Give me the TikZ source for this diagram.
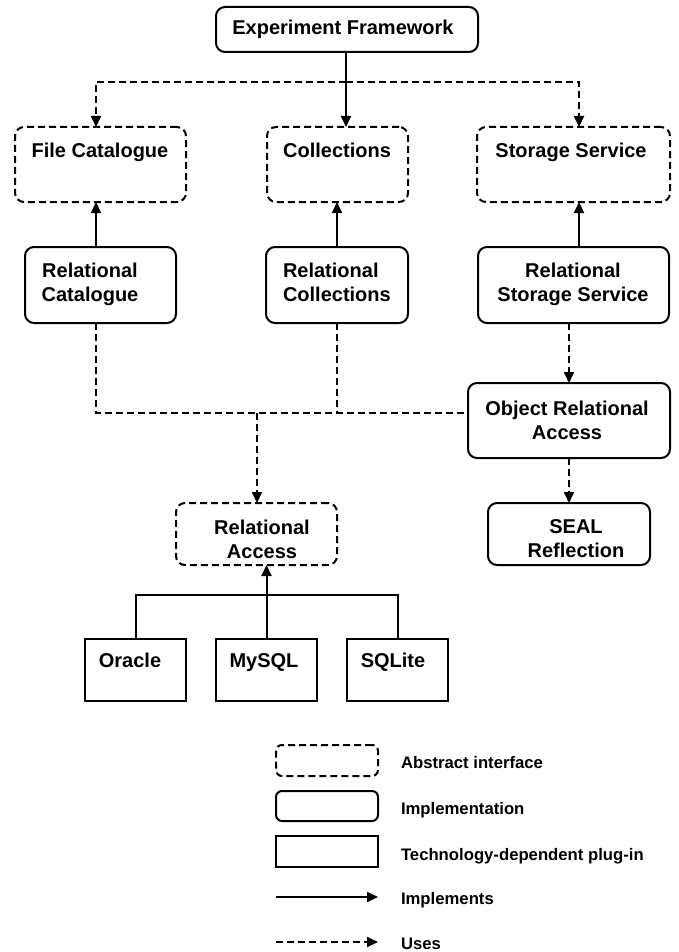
\documentclass[tikz,border=0pt]{standalone}
\usepackage{fontspec}
\setmainfont{Liberation Sans}
\usetikzlibrary{arrows.meta}
\begin{document}
\begin{tikzpicture}[x=1pt,y=-1pt,
  every node/.style={inner sep=0pt, outer sep=0pt},
  abstractbox/.style={draw, line width=2pt, dash pattern=on 7pt off 4pt, rounded corners=9pt},
  implbox/.style={draw, line width=2pt, rounded corners=9pt},
  plugbox/.style={draw, line width=2pt},
  lbl/.style={font=\fontsize{20}{24}\selectfont\bfseries},
  leg/.style={font=\fontsize{16.7}{20}\selectfont\bfseries, anchor=base west},
  implarrow/.style={line width=2pt, -{Triangle[length=11pt,width=10pt]}},
  usesarrow/.style={line width=2pt, dash pattern=on 7pt off 4pt, -{Triangle[length=11pt,width=10pt]}},
  usesline/.style={line width=2pt, dash pattern=on 7pt off 4pt},
  plainline/.style={line width=2pt}]
\useasboundingbox (0,0) rectangle (678,952);

% boxes
\node[implbox, minimum width=262pt, minimum height=45pt] (ef) at (347,29.5) {};
\node[abstractbox, minimum width=171pt, minimum height=75pt] (fc) at (100.5,164.5) {};
\node[abstractbox, minimum width=141pt, minimum height=75pt] (coll) at (337.5,164.5) {};
\node[abstractbox, minimum width=193pt, minimum height=75pt] (ss) at (573.5,164.5) {};
\node[implbox, minimum width=151pt, minimum height=76pt] (relcat) at (100.5,285) {};
\node[implbox, minimum width=142pt, minimum height=76pt] (relcoll) at (337,285) {};
\node[implbox, minimum width=191pt, minimum height=76pt] (rss) at (573.5,285) {};
\node[implbox, minimum width=202pt, minimum height=75pt] (ora) at (569,420.5) {};
\node[implbox, minimum width=162pt, minimum height=62pt] (seal) at (569,534) {};
\node[abstractbox, minimum width=161pt, minimum height=62pt] (ra) at (256.5,534) {};
\node[plugbox, minimum width=101pt, minimum height=62pt] (oracle) at (135.5,670) {};
\node[plugbox, minimum width=101pt, minimum height=62pt] (mysql) at (266.5,670) {};
\node[plugbox, minimum width=101pt, minimum height=62pt] (sqlite) at (397.5,670) {};

% labels
\node[lbl, anchor=base] (ef-t) at (343,35) {Experiment Framework};
\node[lbl, anchor=base] (fc-t) at (100,158) {File Catalogue};
\node[lbl, anchor=base] (coll-t) at (337,158) {Collections};
\node[lbl, anchor=base] (ss-t) at (571,158) {Storage Service};
\node[lbl, align=center] (relcat-t) at (90,284.1) {Relational\\Catalogue};
\node[lbl, align=left, anchor=west] (relcoll-t) at (283,282) {Relational\\Collections};
\node[lbl, align=center] (rss-t) at (573,284.1) {Relational\\Storage Service};
\node[lbl, align=center] (ora-t) at (567,420) {Object Relational\\Access};
\node[lbl, align=center] (seal-t) at (576,539) {SEAL\\Reflection};
\node[lbl, align=center] (ra-t) at (262,539) {Relational\\Access};
\node[lbl, anchor=base] (oracle-t) at (130,667) {Oracle};
\node[lbl, anchor=base] (mysql-t) at (264,667) {MySQL};
\node[lbl, anchor=base] (sqlite-t) at (393,667) {SQLite};

% helper coordinates
\coordinate (c1) at (96,0);
\coordinate (c3) at (579,0);
\coordinate (split) at (346,82);
\coordinate (bus2) at (257,413);
\coordinate (bus) at (266.5,595);

% connectors
\draw[implarrow] (ef.south -| split) -- (coll.north -| split);
\draw[usesarrow] (split) -| (fc.north -| c1);
\draw[usesarrow] (split) -| (ss.north -| c3);
\draw[implarrow] (relcat.north -| c1) -- (fc.south -| c1);
\draw[implarrow] (relcoll.north) -- (coll.south -| relcoll.north);
\draw[implarrow] (rss.north -| c3) -- (ss.south -| c3);
\draw[usesline] (relcat.south -| c1) |- (ora.west |- bus2);
\draw[usesline] (relcoll.south) -- (relcoll.south |- bus2);
\draw[usesarrow] (bus2) -- (ra.north -| bus2);
\draw[usesarrow] (rss.south -| ora.north) -- (ora.north);
\draw[usesarrow] (ora.south) -- (seal.north);
\draw[plainline] (oracle.north) |- (bus) -| (sqlite.north);
\draw[implarrow] (mysql.north) -- (mysql.north |- ra.south);

% legend
\node[abstractbox, rounded corners=6pt, minimum width=102pt, minimum height=31pt] (lg1) at (327,760.5) {};
\node[implbox, rounded corners=6pt, minimum width=102pt, minimum height=30pt] (lg2) at (327,806) {};
\node[plugbox, minimum width=102pt, minimum height=31pt] (lg3) at (327,851.5) {};
\coordinate (li1) at (276,897);
\coordinate (li2) at (378,897);
\coordinate (lu1) at (276,942);
\coordinate (lu2) at (378,942);
\draw[implarrow] (li1) -- (li2);
\draw[usesarrow] (lu1) -- (lu2);
\node[leg] (lg1-t) at (401,768) {Abstract interface};
\node[leg] (lg2-t) at (401,814) {Implementation};
\node[leg] (lg3-t) at (401,860) {Technology-dependent plug-in};
\node[leg] (lg4-t) at (401,904) {Implements};
\node[leg] (lg5-t) at (401,949) {Uses};
\end{tikzpicture}
\end{document}
